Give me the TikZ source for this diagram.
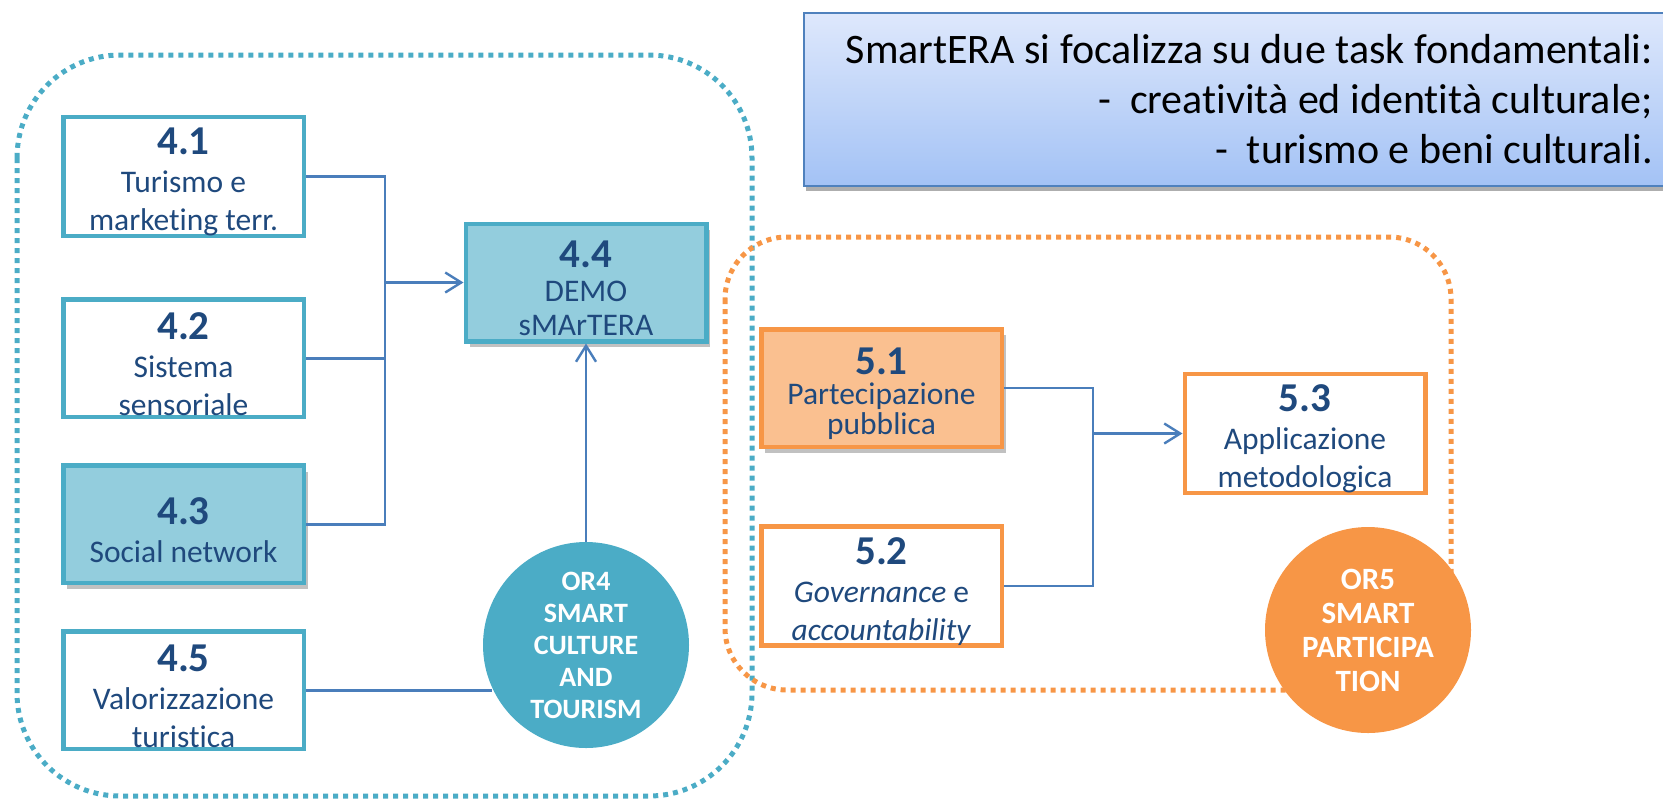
\documentclass[tikz,border=0pt]{standalone}
\usepackage{fontspec}
\setmainfont{Carlito}[Ligatures=NoCommon, Contextuals=NoAlternate]
\usetikzlibrary{positioning, arrows.meta, shadows, calc}

\definecolor{aqualine}{HTML}{4BACC6}
\definecolor{aquafill}{HTML}{93CDDD}
\definecolor{orline}{HTML}{F79646}
\definecolor{orfill}{HTML}{FAC090}
\definecolor{navytext}{HTML}{1F497D}
\definecolor{linkblue}{HTML}{4A7EBB}
\definecolor{noteline}{HTML}{4F81BD}
\definecolor{notetop}{HTML}{DEE8FC}
\definecolor{notebot}{HTML}{A3C2F5}

\newcommand{\tasknum}[1]{{\fontsize{20.5pt}{20.5pt}\selectfont\bfseries\rule{0pt}{19pt}#1}\\}
\newcommand{\tightfont}{\fontsize{15.75pt}{15pt}\selectfont\lineskiplimit=-10pt\relax}

\tikzset{
  boxshadow/.style={
    drop shadow={shadow xshift=2pt, shadow yshift=-3pt,
                 opacity=0.35, fill=black!70}
  },
  task/.style={
    rectangle, draw=aqualine, fill=white,
    line width=2.25pt, text=navytext,
    align=flush center, text width=118pt, inner sep=0pt,
    minimum width=120.25pt, minimum height=58.75pt,
    font=\fontsize{15.75pt}{19pt}\selectfont
  },
  hitask/.style={task, fill=aquafill, boxshadow},
  ortask/.style={task, draw=orline},
  orhitask/.style={ortask, fill=orfill, boxshadow},
  tight/.style={font=\tightfont},
  goal/.style={
    circle, fill=aqualine, text=white,
    minimum size=103pt, inner sep=0pt, align=flush center,
    font=\fontsize{14pt}{16pt}\selectfont\bfseries
  },
  orgoal/.style={goal, fill=orline,
    font=\fontsize{15.5pt}{17pt}\selectfont\bfseries},
  zone/.style={draw=aqualine, line width=2.5pt,
    dash pattern=on 2.5pt off 2.5pt},
  orzone/.style={zone, draw=orline},
  notebox/.style={
    rectangle, draw=noteline, line width=0.9pt,
    top color=notetop, bottom color=notebot,
    inner xsep=5.5pt, inner ysep=0pt,
    text width=419pt, align=flush right, minimum height=86.5pt,
    font=\fontsize{21pt}{25pt}\selectfont,
    drop shadow={shadow xshift=1pt, shadow yshift=-2.5pt,
                 opacity=0.45, fill=black!70}
  },
  link/.style={draw=linkblue, line width=1.2pt},
  arrow/.style={link, -{Straight Barb[length=8pt, width=10pt]}}
}

\begin{document}
\begin{tikzpicture}[x=0.5pt, y=-0.5pt]
\useasboundingbox (0,0) rectangle (1663,799);

% ==============================================================================
% Zones
% ==============================================================================
\draw[zone, rounded corners=51.5pt] (17,55) rectangle (752,796);
\draw[orzone, rounded corners=31pt] (725,237) rectangle (1451,690);

% ==============================================================================
% Note
% ==============================================================================
\node[notebox, anchor=north west] (note) at (803,12) {%
  SmartERA si focalizza su due task fondamentali:\\
  -\ \ creatività ed identità culturale;\\
  -\ \ turismo e beni culturali.%
};

% ==============================================================================
% OR4
% ==============================================================================
\node[task] (d41) at (183.5,176.5) {\tasknum{4.1}Turismo e\\marketing terr.};
\node[task, below=29.5pt of d41] (d42) {\tasknum{4.2}Sistema\\sensoriale};
\node[hitask, below=22pt of d42] (d43) {\tasknum{4.3}Social network};
\node[task, below=22pt of d43] (d45) {\tasknum{4.5}Valorizzazione\\turistica};

\node[hitask, font=\fontsize{15.75pt}{17pt}\selectfont] (d44) at (586,282.5) {%
  \tasknum{4.4}DEMO\\sMArTERA%
};

\node[goal] (or4) at (586,645) {OR4\\SMART\\CULTURE\\AND\\TOURISM};

% ==============================================================================
% OR5
% ==============================================================================
\node[orhitask, tight] (d51) at (881.5,388) {%
  \tasknum{5.1}Partecipazione\\pubblica%
};
\node[ortask, below=37.5pt of d51] (d52) {%
  \tasknum{5.2}\textit{Governance} e\\\textit{accountability}%
};
\node[ortask] (d53) at (1305,433.5) {\tasknum{5.3}Applicazione\\metodologica};

\node[orgoal] (or5) at (1368,630) {OR5\\SMART\\PARTICIPA\\TION};

% ==============================================================================
% Links
% ==============================================================================
\coordinate (j4) at ($(d41.east)!0.5!(d44.west)$);
\draw[link] (d41.east) -| (j4 |- d43.east) -- (d43.east);
\draw[link] (d42.east) -- (j4 |- d42.east);
\draw[arrow] (j4 |- d44.west) -- (d44.west);
\draw[arrow] (or4.north) -- (d44.south);
\draw[link] (d45.east) -- (d45.east -| or4.205);

\coordinate (j5) at ($(d51.east)!0.5!(d53.west)$);
\draw[link] (d51.east) -| (j5 |- d52.east) -- (d52.east);
\draw[arrow] (j5 |- d53.west) -- (d53.west);

\end{tikzpicture}
\end{document}
